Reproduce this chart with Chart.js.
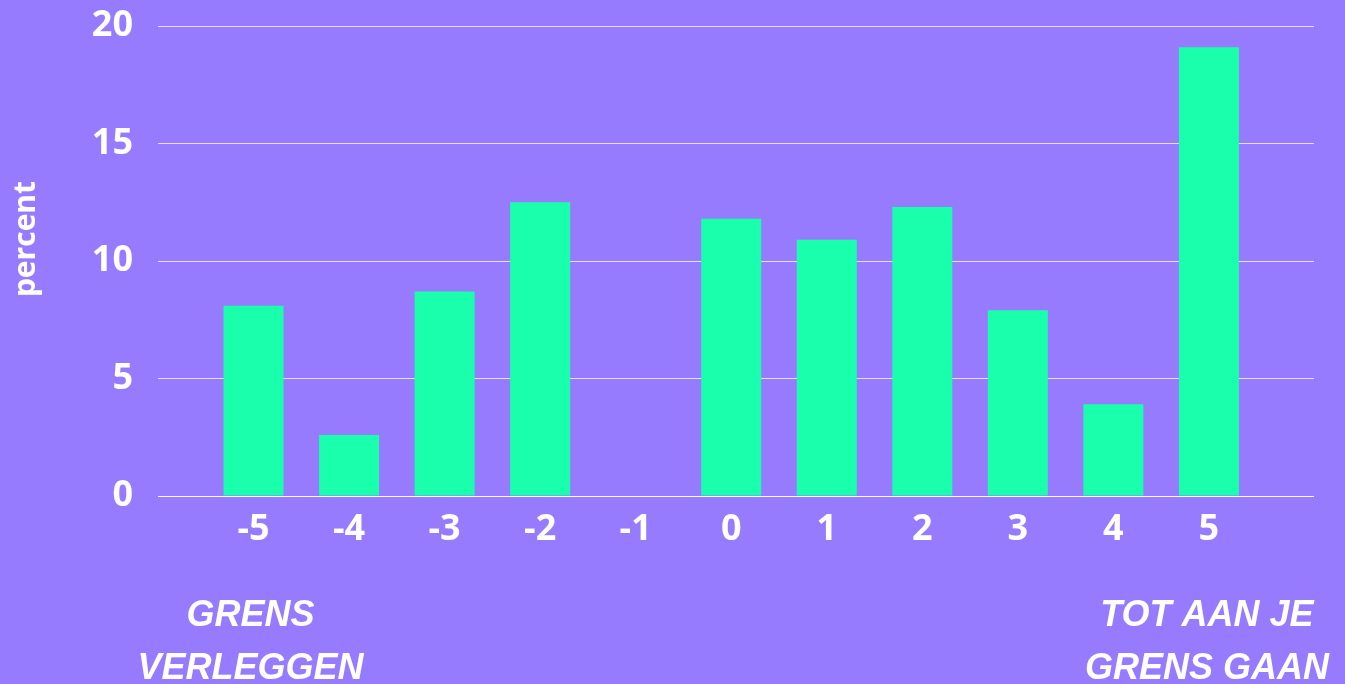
<!DOCTYPE html>
<html>
<head>
<meta charset="utf-8">
<script src="https://cdn.jsdelivr.net/npm/chart.js@4/dist/chart.umd.min.js"></script>
<style>
  html, body { margin: 0; padding: 0; background: #977BFF; }
  #wrap { width: 1345px; height: 684px; position: relative; }
</style>
</head>
<body>
<div id="wrap"><canvas id="chart" width="1345" height="684"></canvas></div>
<script>
// Scale positions from -5 (move the boundary) to 5 (go up to your boundary)
const categories = [-5, -4, -3, -2, -1, 0, 1, 2, 3, 4, 5];
const tickLabels = ['-5', '-4', '-3', '-2', '-1', '0', '1', '2', '3', '4', '5'];
const percentValues = [8.1, 2.6, 8.7, 12.5, 0, 11.8, 10.9, 12.3, 7.9, 3.9, 19.1];
const yTicks = [0, 5, 10, 15, 20];
const yTitle = 'percent';
const leftCaption = ['GRENS', 'VERLEGGEN'];
const rightCaption = ['TOT AAN JE', 'GRENS GAAN'];

const WHITE = '#FFFFFF';
const BAR = '#19FFAB';
const BG = '#977BFF';

// Captions under both ends of the scale, plus the rotated axis title
const captions = {
  id: 'captions',
  afterDraw(chart) {
    const ctx = chart.ctx;
    const x = chart.scales.x;
    ctx.save();
    ctx.fillStyle = WHITE;
    ctx.textAlign = 'center';
    ctx.textBaseline = 'alphabetic';
    ctx.font = 'italic bold 36px "Liberation Sans"';
    const drawLines = (lines, cx) => {
      lines.forEach((t, i) => ctx.fillText(t, cx, 626 + i * 53));
    };
    drawLines(leftCaption, x.getPixelForValue(categories[0]) - 3);
    drawLines(rightCaption, x.getPixelForValue(categories[categories.length - 1]) - 2);

    ctx.translate(26, 239);
    ctx.rotate(-Math.PI / 2);
    ctx.textBaseline = 'middle';
    ctx.font = 'bold 30px "Open Sans"';
    ctx.fillText(yTitle, 0, 0);
    ctx.restore();
  }
};

const bgPlugin = {
  id: 'bg',
  beforeDraw(chart) {
    const ctx = chart.ctx;
    ctx.save();
    ctx.fillStyle = BG;
    ctx.fillRect(0, 0, chart.width, chart.height);
    ctx.restore();
  }
};

new Chart(document.getElementById('chart'), {
  type: 'bar',
  data: {
    datasets: [{
      data: categories.map((c, i) => ({ x: c, y: percentValues[i] })),
      backgroundColor: BAR,
      borderWidth: 0,
      categoryPercentage: 1,
      barPercentage: 0.628
    }]
  },
  options: {
    responsive: false,
    animation: false,
    layout: { padding: { top: 26, right: 31, left: 0, bottom: 0 } },
    plugins: { legend: { display: false }, tooltip: { enabled: false } },
    scales: {
      x: {
        type: 'linear',
        offset: false,
        min: -6,
        max: 6.1,
        afterBuildTicks: s => { s.ticks = categories.map(v => ({ value: v })); },
        afterFit: s => { s.height = 188; },
        grid: { display: false },
        border: { display: false },
        ticks: {
          autoSkip: false,
          maxRotation: 0,
          padding: 4,
          color: WHITE,
          font: { family: 'Open Sans', size: 36, weight: 'bold' },
          callback: v => tickLabels[categories.indexOf(v)]
        }
      },
      y: {
        min: 0,
        max: 20,
        afterBuildTicks: s => { s.ticks = yTicks.map(v => ({ value: v })); },
        afterFit: s => { s.width = 158; s.paddingTop = 0; s.paddingBottom = 0; },
        border: { display: false },
        grid: {
          drawTicks: false,
          color: ctx => ctx.tick && ctx.tick.value === 0 ? WHITE : 'rgba(255,255,255,0.75)',
          lineWidth: 1
        },
        ticks: {
          padding: 25,
          color: WHITE,
          font: { family: 'Open Sans', size: 36, weight: 'bold' }
        }
      }
    }
  },
  plugins: [bgPlugin, captions]
});
</script>
</body>
</html>
